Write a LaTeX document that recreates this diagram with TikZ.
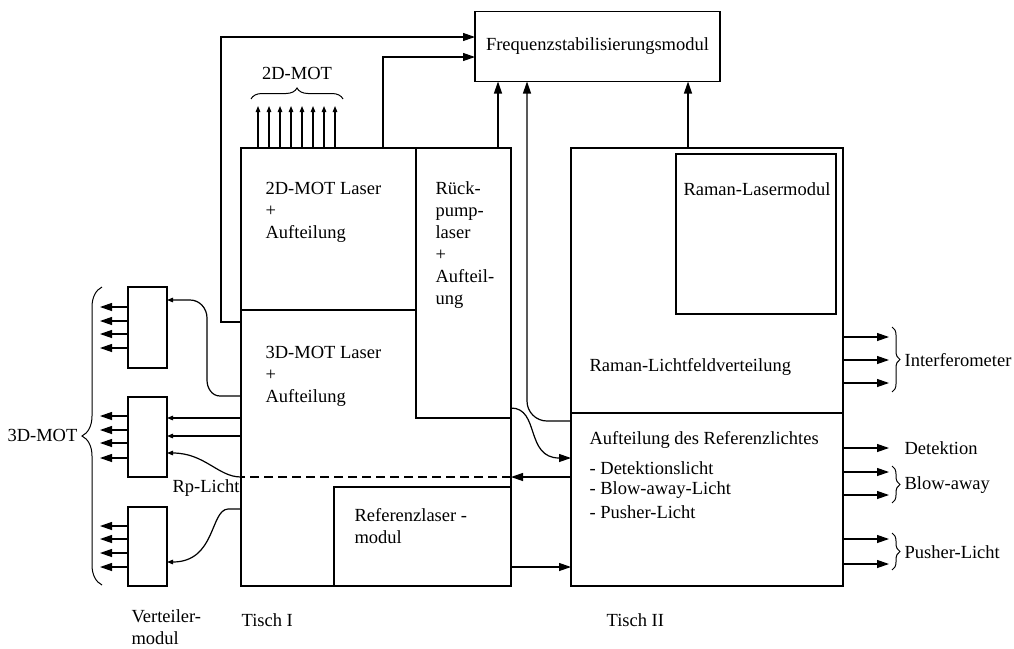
\documentclass[tikz,border=0pt]{standalone}
\usepackage{fontspec}
\setmainfont{Liberation Serif}
\usetikzlibrary{arrows.meta,decorations.pathreplacing,calc}
\begin{document}
\begin{tikzpicture}[x=1pt,y=-1pt, line width=1.2pt,
  font=\fontsize{18.5}{22}\selectfont,
  box/.style={draw, inner sep=0pt, outer sep=0pt},
  lbl/.style={inner sep=0pt, align=left},
  big/.style={-{Triangle[length=12pt,width=8pt]}},
  small/.style={-{Triangle[length=6pt,width=4.5pt]}},
  brc/.style={decorate, decoration={brace, amplitude=#1}, line width=1pt},
  dsh/.style={dash pattern=on 9pt off 5pt}
]
\useasboundingbox (0,0) rectangle (1014,648);

% boxes
\node[box, minimum width=245pt, minimum height=70pt] (freq) at (597.5,46.5) {Frequenzstabilisierungsmodul};
\node[box, minimum width=270pt, minimum height=438pt] (t1) at (376,367) {};
\node[box, minimum width=175pt, minimum height=162pt] (mot2) at (328.5,229) {};
\node[box, minimum width=95pt, minimum height=270pt] (rp) at (463.5,283) {};
\node[box, minimum width=177pt, minimum height=99pt] (ref) at (422.5,536.5) {};
\node[box, minimum width=272pt, minimum height=438pt] (t2) at (707,367) {};
\node[box, minimum width=160pt, minimum height=160pt] (raman) at (756,234) {};
\node[box, minimum width=39pt, minimum height=81pt] (v1) at (147.5,327.5) {};
\node[box, minimum width=39pt, minimum height=80pt] (v2) at (147.5,437) {};
\node[box, minimum width=39pt, minimum height=79pt] (v3) at (147.5,546.5) {};

\coordinate (d1) at (t2.west |- 0,413);
\coordinate (d2) at (t2.east |- 0,413);
\draw (d1) -- (d2);

% texts
\node[lbl, anchor=west] (tmot2) at (265,212) {2D-MOT Laser\\+\\Aufteilung};
\node[lbl, anchor=west] (trp) at (435,245) {Rück-\\pump-\\laser\\+\\Aufteil-\\ung};
\node[lbl, anchor=west] (tmot3) at (265,376) {3D-MOT Laser\\+\\Aufteilung};
\node[lbl, anchor=west] (tref) at (354,526) {Referenzlaser -\\modul};
\node[lbl] (traman) at (757,189) {Raman-Lasermodul};
\node[lbl, anchor=west] (tlicht) at (589,367) {Raman-Lichtfeldverteilung};
\node[lbl, anchor=west] (tauf) at (589,440) {Aufteilung des Referenzlichtes};
\node[lbl, anchor=west] (tdet) at (589,468) {- Detektionslicht};
\node[lbl, anchor=west] (tblow) at (589,490) {- Blow-away-Licht};
\node[lbl, anchor=west] (tpush) at (589,512) {- Pusher-Licht};

\node[lbl, anchor=west] (linterf) at (904,360) {Interferometer};
\node[lbl, anchor=west] (ldet) at (904,448) {Detektion};
\node[lbl, anchor=west] (lblow) at (904,485) {Blow-away};
\node[lbl, anchor=west] (lpush) at (904,552) {Pusher-Licht};
\node[lbl, anchor=east] (l3d) at (78,435) {3D-MOT};
\node[lbl] (l2d) at (297,73) {2D-MOT};
\node[lbl, anchor=west] (lrp) at (172,488) {Rp-Licht};
\node[lbl, anchor=west] (lvert) at (131,627) {Verteiler-\\modul};
\node[lbl, anchor=west] (lt1) at (241,620) {Tisch I};
\node[lbl, anchor=west] (lt2) at (606,620) {Tisch II};

% connectors to the frequency stabilisation
\draw[big] (t1.west |- 0,322) -- (221,322) -- (221,37) -- (freq.west |- 0,37);
\draw[big] (mot2.north -| 383,0) -- (383,57) -- (freq.west |- 0,57);
\draw[big] (rp.north -| 498,0) -- (freq.south -| 498,0);
\draw[big] (t2.north -| 688,0) -- (freq.south -| 688,0);
\draw[big, rounded corners=20pt] (t2.west |- 0,421) -| (freq.south -| 527,0);

% between the tables
\draw[big] (rp.east |- 0,408) .. controls (540,408) and (525,458) .. (t2.west |- 0,458);
\draw[big] (t2.west |- 0,477) -- (t1.east |- 0,477);
\draw[dsh] (t1.east |- 0,477) -- (t1.west |- 0,477);
\draw[big] (ref.east |- 0,567) -- (t2.west |- 0,567);

% 2D-MOT beams
\foreach \i in {0,...,7}
  \draw[small] ([xshift={17+11*\i}]mot2.north west) -- ++(0,-42);
\draw[brc=11pt] (251,99) -- (343,99);

% Verteilermodule
\draw[small] (t1.west |- 0,396) -- (220,396) to[out=180,in=-90] (207,380) -- (207,318) to[out=90,in=0] (190,300) -- (v1.east |- 0,300);
\draw[small] (t1.west |- 0,418) -- (v2.east |- 0,418);
\draw[small] (t1.west |- 0,436) -- (v2.east |- 0,436);
\draw[small] (t1.west |- 0,477) .. controls (218,477) and (205,453) .. (v2.east |- 0,453);
\draw[small] (t1.west |- 0,509) -- (228,509) .. controls (210,510) and (216,562) .. (v3.east |- 0,562);

\foreach \y in {307,321,334,348} \draw[big] (v1.west |- 0,\y) -- (100,\y);
\foreach \y in {416,430,443,458} \draw[big] (v2.west |- 0,\y) -- (100,\y);
\foreach \y in {526,539,553,567} \draw[big] (v3.west |- 0,\y) -- (100,\y);
\draw[brc=20pt] (102,585) -- (102,287);

% outputs of Tisch II
\foreach \y in {337,360,383,448,472,495,539,564} \draw[big] (t2.east |- 0,\y) -- (889,\y);
\draw[brc=8pt] (892,327) -- (892,392);
\draw[brc=8pt] (892,466) -- (892,503);
\draw[brc=8pt] (892,533) -- (892,570);
\end{tikzpicture}
\end{document}
